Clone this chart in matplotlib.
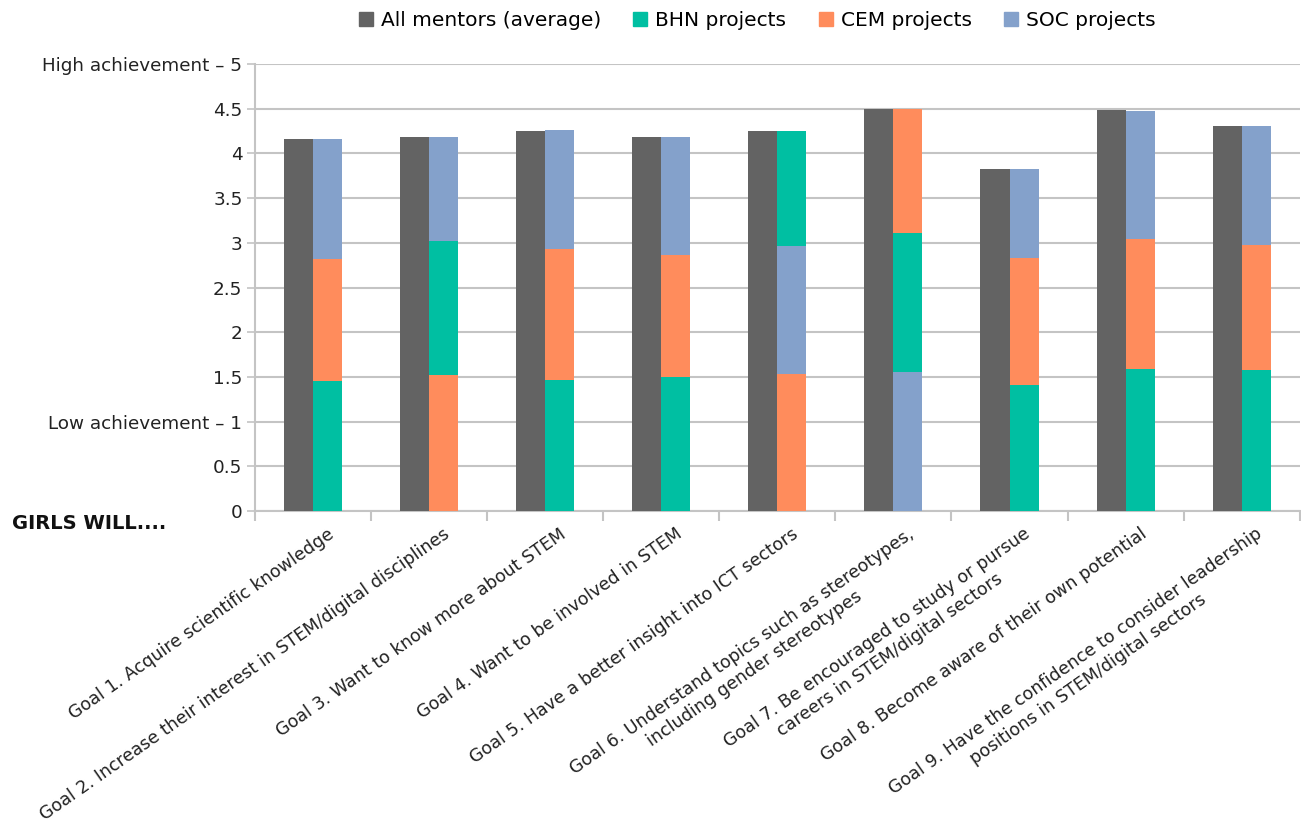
import numpy as np
import matplotlib
matplotlib.use("Agg")
import matplotlib.pyplot as plt

plt.rcParams['font.family'] = ['DejaVu Sans']

goals = [
    "Goal 1. Acquire scientific knowledge",
    "Goal 2. Increase their interest in STEM/digital disciplines",
    "Goal 3. Want to know more about STEM",
    "Goal 4. Want to be involved in STEM",
    "Goal 5. Have a better insight into ICT sectors",
    "Goal 6. Understand topics such as stereotypes,\nincluding gender stereotypes",
    "Goal 7. Be encouraged to study or pursue\ncareers in STEM/digital sectors",
    "Goal 8. Become aware of their own potential",
    "Goal 9. Have the confidence to consider leadership\npositions in STEM/digital sectors",
]

avg_all = [4.16, 4.19, 4.25, 4.19, 4.25, 4.50, 3.83, 4.49, 4.31]
bhn = [1.46, 1.50, 1.47, 1.50, 1.28, 1.55, 1.41, 1.59, 1.58]
cem = [1.36, 1.52, 1.46, 1.36, 1.53, 1.39, 1.42, 1.45, 1.40]
soc = [1.34, 1.17, 1.33, 1.33, 1.44, 1.56, 1.00, 1.44, 1.33]

# bottom -> top order of the stacked bar, as in the original
stack_order = [
    ["BHN", "CEM", "SOC"],
    ["CEM", "BHN", "SOC"],
    ["BHN", "CEM", "SOC"],
    ["BHN", "CEM", "SOC"],
    ["CEM", "SOC", "BHN"],
    ["SOC", "BHN", "CEM"],
    ["BHN", "CEM", "SOC"],
    ["BHN", "CEM", "SOC"],
    ["BHN", "CEM", "SOC"],
]

series = {"BHN": bhn, "CEM": cem, "SOC": soc}
colors = {"AVG": "#636363", "BHN": "#00BFA2", "CEM": "#FF8C5C", "SOC": "#84A1CB"}
labels = {"AVG": "All mentors (average)", "BHN": "BHN projects",
          "CEM": "CEM projects", "SOC": "SOC projects"}

yticks = np.arange(0, 5.01, 0.5)
ytick_labels = ["0", "0.5", "Low achievement \u2013 1", "1.5", "2", "2.5",
                "3", "3.5", "4", "4.5", "High achievement \u2013 5"]

fig = plt.figure(figsize=(13.01, 8.27), dpi=100)
ax = fig.add_axes([0.196, 0.382, 0.803, 0.5405])

x = np.arange(len(goals))
w = 0.25
ax.bar(x - w / 2, avg_all, w, color=colors["AVG"], zorder=3)
for i in range(len(goals)):
    bottom = 0
    for key in stack_order[i]:
        v = series[key][i]
        ax.bar(x[i] + w / 2, v, w, bottom=bottom, color=colors[key], zorder=3)
        bottom += v

ax.set_xlim(-0.5, len(goals) - 0.5)
ax.set_ylim(0, 5)
ax.set_yticks(yticks)
ax.set_yticklabels(ytick_labels, fontsize=13.2, color="#222222")
ax.yaxis.grid(True, color="#c4c4c4", linewidth=1.5, zorder=0)
ax.tick_params(axis='y', length=6, color="#c4c4c4", width=1.2, pad=3)

ax.set_xticks(x + 0.12)
ax.set_xticklabels(goals, rotation=35, ha='right', va='top',
                   rotation_mode='anchor', fontsize=12.6, color="#222222",
                   multialignment='center')
ax.tick_params(axis='x', length=0, pad=10)
ax.set_xticks(np.arange(-0.5, len(goals)), minor=True)
ax.tick_params(axis='x', which='minor', length=7, color="#c4c4c4", width=1.5)

for s in ["top", "right"]:
    ax.spines[s].set_visible(False)
ax.spines["left"].set_color("#c4c4c4")
ax.spines["left"].set_linewidth(1.5)
ax.spines["bottom"].set_color("#c4c4c4")
ax.spines["bottom"].set_linewidth(1.5)

handles = [plt.Rectangle((0, 0), 1, 1, color=colors[k]) for k in ["AVG", "BHN", "CEM", "SOC"]]
fig.legend(handles, [labels[k] for k in ["AVG", "BHN", "CEM", "SOC"]],
           loc='center', bbox_to_anchor=(0.582, 0.975), ncol=4, frameon=False,
           fontsize=14.5, handlelength=0.7, handleheight=0.7, handletextpad=0.4,
           columnspacing=1.6)

fig.text(0.009, 0.367, "GIRLS WILL....", fontsize=14, fontweight='bold',
         va='center', ha='left', color="#111111")

fig.savefig("out.png", dpi=100)
